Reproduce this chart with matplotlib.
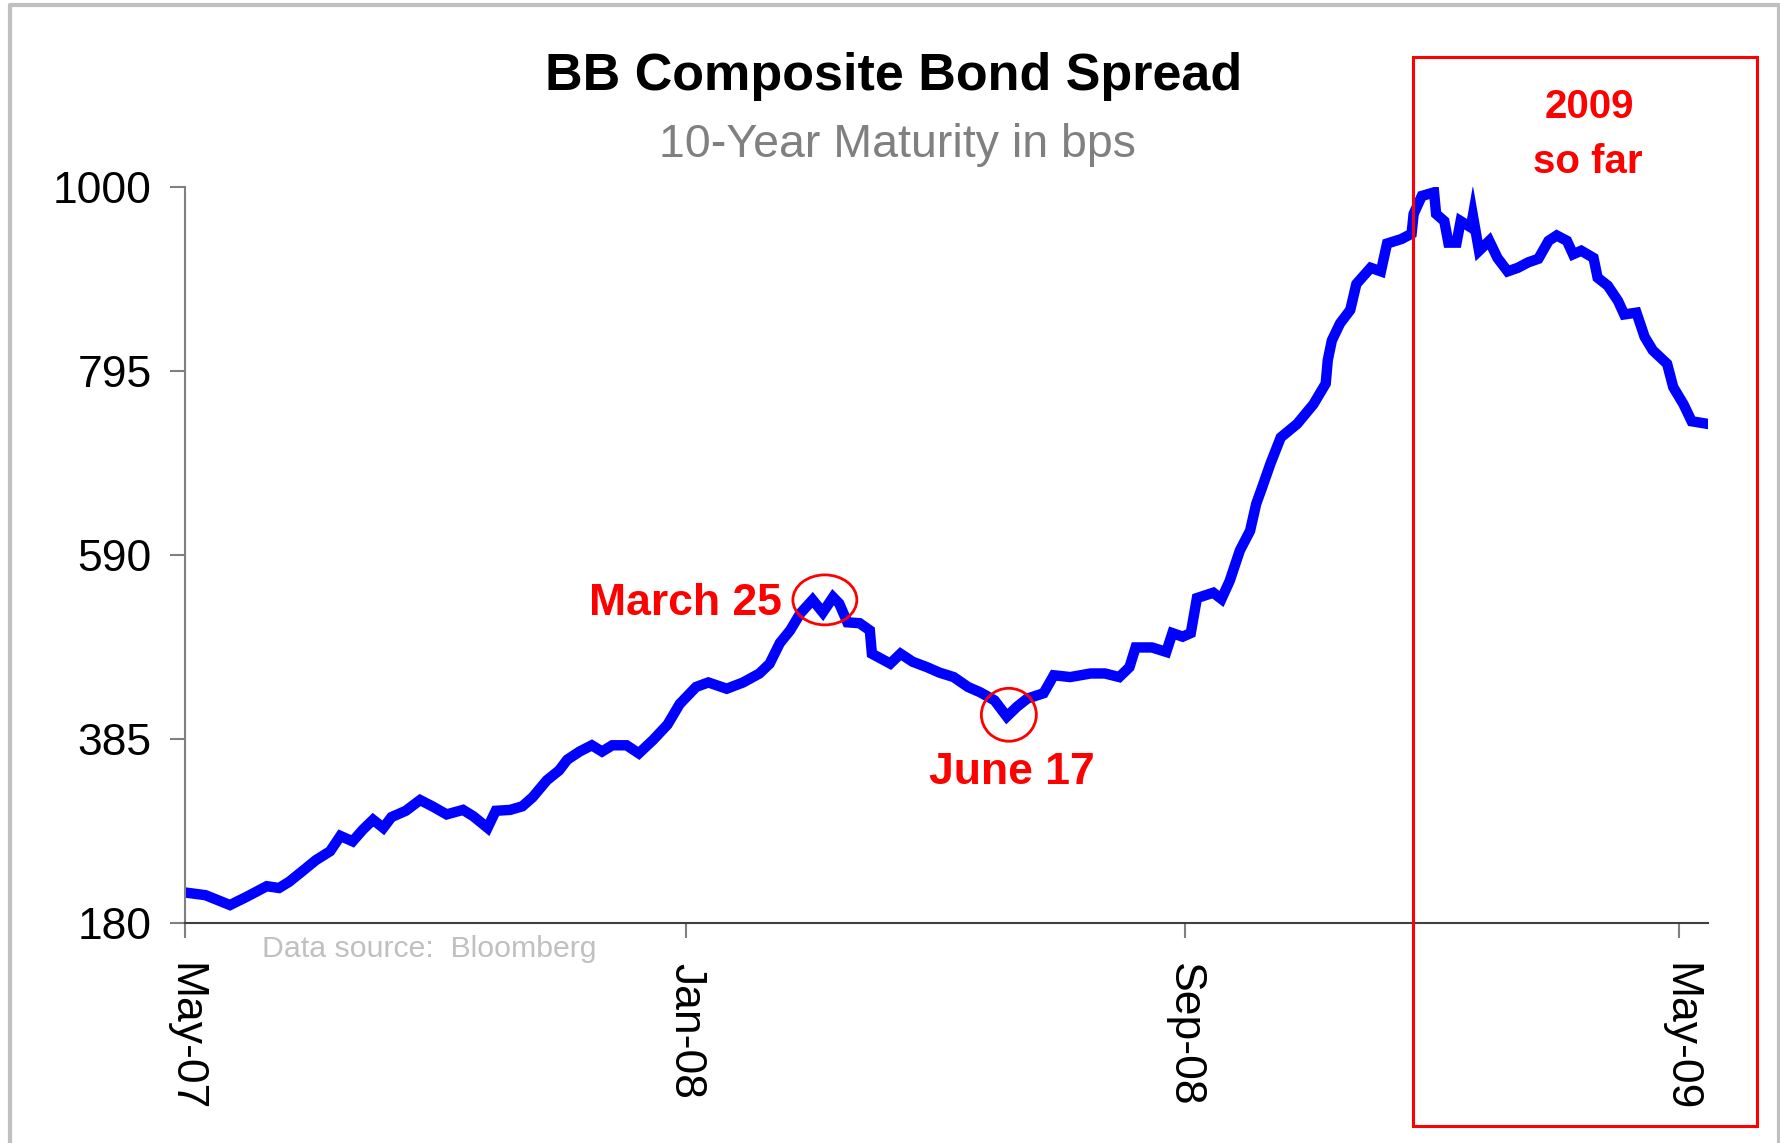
import matplotlib
matplotlib.use("Agg")
import matplotlib.pyplot as plt
import matplotlib.dates as mdates
from matplotlib.patches import Ellipse, Rectangle
from matplotlib.lines import Line2D
import pandas as pd

plt.rcParams['font.family'] = ['Liberation Sans', 'DejaVu Sans']

# BB composite spread (bps)
dates = [
    "2007-05-01", "2007-05-11", "2007-05-23", "2007-05-31", "2007-06-10", "2007-06-16",
    "2007-06-21", "2007-06-27", "2007-07-04", "2007-07-11", "2007-07-16", "2007-07-22",
    "2007-07-27", "2007-08-01", "2007-08-06", "2007-08-10", "2007-08-17", "2007-08-24",
    "2007-08-30", "2007-09-06", "2007-09-14", "2007-09-19", "2007-09-26", "2007-09-30",
    "2007-10-07", "2007-10-13", "2007-10-18", "2007-10-25", "2007-10-31", "2007-11-04",
    "2007-11-10", "2007-11-16", "2007-11-21", "2007-11-26", "2007-12-03", "2007-12-09",
    "2007-12-16", "2007-12-23", "2007-12-29", "2008-01-06", "2008-01-12", "2008-01-21",
    "2008-01-29", "2008-02-06", "2008-02-11", "2008-02-16", "2008-02-21", "2008-02-26",
    "2008-03-03", "2008-03-08", "2008-03-13", "2008-03-16", "2008-03-20", "2008-03-26",
    "2008-03-31", "2008-04-01", "2008-04-10", "2008-04-15", "2008-04-21", "2008-04-28",
    "2008-05-04", "2008-05-11", "2008-05-18", "2008-05-24", "2008-05-31", "2008-06-06",
    "2008-06-11", "2008-06-16", "2008-06-24", "2008-06-29", "2008-07-07", "2008-07-17",
    "2008-07-24", "2008-07-31", "2008-08-05", "2008-08-08", "2008-08-16", "2008-08-23",
    "2008-08-26", "2008-08-31", "2008-09-04", "2008-09-07", "2008-09-15", "2008-09-19",
    "2008-09-23", "2008-09-28", "2008-10-03", "2008-10-06", "2008-10-09", "2008-10-13",
    "2008-10-18", "2008-10-26", "2008-11-03", "2008-11-09", "2008-11-10", "2008-11-12",
    "2008-11-16", "2008-11-21", "2008-11-24", "2008-12-01", "2008-12-06", "2008-12-09",
    "2008-12-16", "2008-12-21", "2008-12-22", "2008-12-26", "2009-01-01", "2009-01-02",
    "2009-01-06", "2009-01-08", "2009-01-12", "2009-01-14", "2009-01-19", "2009-01-20",
    "2009-01-23", "2009-01-28", "2009-02-01", "2009-02-06", "2009-02-11", "2009-02-16",
    "2009-02-21", "2009-02-26", "2009-03-02", "2009-03-07", "2009-03-10", "2009-03-14",
    "2009-03-20", "2009-03-22", "2009-03-27", "2009-04-01", "2009-04-04", "2009-04-10",
    "2009-04-14", "2009-04-18", "2009-04-25", "2009-04-28", "2009-05-03", "2009-05-07",
    "2009-05-15",
]
spread = [
    214, 211, 200, 209, 221, 219,
    226, 237, 250, 260, 277, 271,
    284, 295, 286, 298, 305, 317,
    310, 301, 306, 299, 286, 305,
    306, 310, 320, 339, 350, 362,
    371, 378, 371, 378, 378, 369,
    384, 401, 424, 443, 448, 441,
    448, 458, 469, 492, 506, 525,
    540, 526, 543, 536, 515, 514,
    506, 480, 469, 480, 471, 465,
    459, 454, 443, 437, 428, 410,
    421, 430, 436, 456, 454, 458,
    458, 454, 465, 487, 487, 482,
    503, 499, 503, 542, 548, 541,
    561, 595, 617, 647, 666, 692,
    721, 736, 758, 781, 807, 829,
    848, 863, 892, 910, 906, 937,
    942, 948, 970, 990, 994, 970,
    962, 938, 938, 962, 955, 968,
    929, 940, 921, 906, 910, 916,
    920, 940, 946, 940, 925, 929,
    921, 899, 890, 873, 858, 860,
    833, 818, 803, 777, 758, 739,
    736,
]

y_ticks = [180, 385, 590, 795, 1000]
x_tick_dates = ["2007-05-01", "2008-01-01", "2008-09-01", "2009-05-01"]
x_tick_labels = ["May-07", "Jan-08", "Sep-08", "May-09"]

# circled points
march_mark = ("2008-03-09", 540)
june_mark = ("2008-06-07", 412)

W, H = 1781, 1143
fig = plt.figure(figsize=(W / 100, H / 100), dpi=100)


def fx(px):
    return px / W


def fy(py):
    return 1 - py / H


ax = fig.add_axes([fx(185), fy(923), fx(1708) - fx(185), fy(187) - fy(923)])
x = pd.to_datetime(dates)
ax.plot(x, spread, color='#0000ff', lw=7.5, solid_joinstyle='miter')

ax.set_xlim(pd.Timestamp("2007-05-01"), pd.Timestamp("2007-05-01") + pd.Timedelta(days=745))
ax.set_ylim(180, 1000)
ax.set_yticks(y_ticks)
ax.set_xticks(pd.to_datetime(x_tick_dates))
ax.set_xticklabels(x_tick_labels, rotation=-90)

ax.tick_params(axis='both', direction='out', length=11, width=1.5, color='#808080', labelsize=32)
ax.tick_params(axis='y', pad=13)
ax.tick_params(axis='x', pad=18)
for s in ['top', 'right']:
    ax.spines[s].set_visible(False)
ax.spines['left'].set_color('#808080')
ax.spines['left'].set_linewidth(1.5)
ax.spines['bottom'].set_color('#404040')
ax.spines['bottom'].set_linewidth(1.5)

for (d, v), w, h in [(march_mark, 31.3, 55.7), (june_mark, 26.9, 59)]:
    ax.add_patch(Ellipse((mdates.date2num(pd.Timestamp(d)), v), width=w, height=h,
                         fill=False, edgecolor='red', lw=2, zorder=5))

# outer grey frame
fig.add_artist(Line2D([fx(10), fx(10), fx(1779), fx(1779)], [fy(1143), fy(5), fy(5), fy(1143)],
                      transform=fig.transFigure, color='#c0c0c0', lw=3))
# 2009 box
fig.add_artist(Rectangle((fx(1413), fy(1126)), fx(1757) - fx(1413), fy(57) - fy(1126),
                         transform=fig.transFigure, fill=False, edgecolor='red', lw=2.2, zorder=10))

fig.text(fx(894), fy(90), "BB Composite Bond Spread", ha='center', va='baseline',
         fontsize=37.5, fontweight='bold')
fig.text(fx(897), fy(157), "10-Year Maturity in bps", ha='center', va='baseline',
         fontsize=33.5, color='#808080')
fig.text(fx(262), fy(957), "Data source:  Bloomberg", ha='left', va='baseline',
         fontsize=21.8, color='#c0c0c0')
fig.text(fx(782), fy(615), "March 25", ha='right', va='baseline',
         fontsize=32, fontweight='bold', color='red')
fig.text(fx(1012), fy(784), "June 17", ha='center', va='baseline',
         fontsize=32, fontweight='bold', color='red')
fig.text(fx(1589), fy(118), "2009", ha='center', va='baseline',
         fontsize=29, fontweight='bold', color='red')
fig.text(fx(1588), fy(173), "so far", ha='center', va='baseline',
         fontsize=29, fontweight='bold', color='red')

fig.savefig("out.png", dpi=100)
